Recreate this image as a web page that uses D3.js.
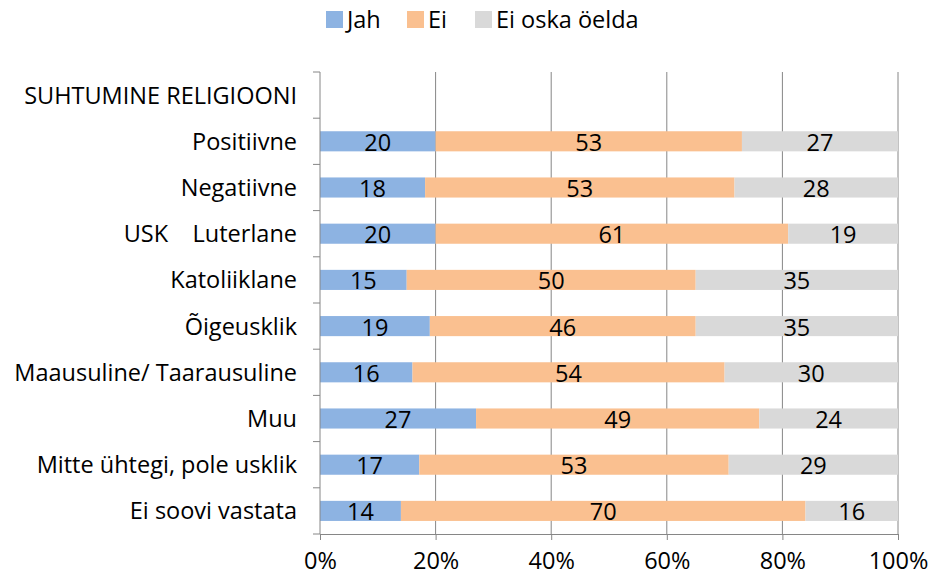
<!DOCTYPE html>
<html>
<head>
<meta charset="utf-8">
<script src="https://cdn.jsdelivr.net/npm/d3@7"></script>
<style>
  body { margin: 0; background: #fff; }
  text { font-family: "Open Sans", "Noto Sans", sans-serif; fill: #000; }
</style>
</head>
<body>
<div id="chart"></div>
<script>
// categories and values (percent)
var categories = ['SUHTUMINE RELIGIOONI', 'Positiivne', 'Negatiivne', 'USK    Luterlane', 'Katoliiklane',
    'Õigeusklik', 'Maausuline/ Taarausuline', 'Muu', 'Mitte ühtegi, pole usklik', 'Ei soovi vastata'];
var jah = [null, 20, 18, 20, 15, 19, 16, 27, 17, 14];
var ei = [null, 53, 53, 61, 50, 46, 54, 49, 53, 70];
var eiOska = [null, 27, 28, 19, 35, 35, 30, 24, 29, 16];
var seriesNames = ['Jah', 'Ei', 'Ei oska öelda'];
var xTicks = [0, 0.2, 0.4, 0.6, 0.8, 1];

var colors = ['#8DB3E2', '#FAC090', '#D9D9D9'];

var svgWidth = 931;
var svgHeight = 582;
var margin = {top: 72, right: 33, bottom: 48, left: 320};
var chartWidth = svgWidth - margin.left - margin.right;
var chartHeight = svgHeight - margin.top - margin.bottom;

var svg = d3.select('#chart').append('svg')
    .attr('width', svgWidth)
    .attr('height', svgHeight);

var chartGroup = svg.append('g')
    .attr('transform', `translate(${margin.left}, ${margin.top})`);

var table = categories.map(function(c, i) {
    return {cat: c, Jah: jah[i], Ei: ei[i], 'Ei oska öelda': eiOska[i]};
});

var xScale = d3.scaleLinear().domain([0, 1]).range([0, chartWidth]);
var yScale = d3.scaleBand().domain(categories).range([0, chartHeight]).paddingInner(0.565).paddingOuter(0.2825);

// gridlines
chartGroup.append('g').selectAll('line')
    .data(xTicks.slice(1))
    .enter().append('line')
    .attr('x1', d => xScale(d)).attr('x2', d => xScale(d))
    .attr('y1', 0).attr('y2', chartHeight)
    .attr('stroke', '#868686').attr('stroke-width', 1);

// 100% stacked bars
var stack = d3.stack().keys(seriesNames).value((d, k) => d[k] || 0).offset(d3.stackOffsetExpand);
var layers = stack(table.filter(d => d.Jah !== null));

var layerGroups = chartGroup.selectAll('.layer')
    .data(layers)
    .enter().append('g')
    .attr('fill', (d, i) => colors[i]);

layerGroups.selectAll('rect')
    .data(d => d.map(p => Object.assign(p, {key: d.key})))
    .enter().append('rect')
    .attr('x', d => xScale(d[0]))
    .attr('y', d => yScale(d.data.cat))
    .attr('width', d => xScale(d[1]) - xScale(d[0]))
    .attr('height', yScale.bandwidth());

layerGroups.selectAll('text')
    .data(d => d)
    .enter().append('text')
    .attr('x', d => (xScale(d[0]) + xScale(d[1])) / 2)
    .attr('y', d => yScale(d.data.cat) + yScale.bandwidth() / 2 + 1)
    .attr('dy', '0.36em')
    .attr('text-anchor', 'middle')
    .style('font-size', '23.5px')
    .text(d => d.data[d.key]);

// y axis with ticks between categories
chartGroup.append('line')
    .attr('x1', 0).attr('x2', 0).attr('y1', 0).attr('y2', chartHeight)
    .attr('stroke', '#868686');
chartGroup.append('g').selectAll('line')
    .data(d3.range(categories.length + 1))
    .enter().append('line')
    .attr('x1', -7).attr('x2', 0)
    .attr('y1', d => d * chartHeight / categories.length)
    .attr('y2', d => d * chartHeight / categories.length)
    .attr('stroke', '#868686');

chartGroup.append('g').selectAll('text')
    .data(categories)
    .enter().append('text')
    .attr('x', -23)
    .attr('y', d => yScale(d) + yScale.bandwidth() / 2)
    .attr('dy', '0.36em')
    .attr('text-anchor', 'end')
    .style('font-size', '23.5px')
    .style('white-space', 'pre')
    .text(d => d);

// x axis
var bottomAxis = d3.axisBottom(xScale).tickValues(xTicks).tickFormat(d3.format('.0%')).tickSize(6).tickPadding(12);
var xAxisG = chartGroup.append('g')
    .attr('transform', `translate(0, ${chartHeight})`)
    .call(bottomAxis);
xAxisG.select('.domain').attr('stroke', '#868686');
xAxisG.selectAll('.tick line').attr('stroke', '#868686');
xAxisG.selectAll('.tick text').style('font-size', '23.5px').style('font-family', '"Open Sans", sans-serif');

// legend
var legendX = [326, 407, 475];
var legend = svg.append('g').selectAll('g')
    .data(seriesNames)
    .enter().append('g')
    .attr('transform', (d, i) => `translate(${legendX[i]}, 11)`);
legend.append('rect')
    .attr('width', 17).attr('height', 17)
    .attr('fill', (d, i) => colors[i]);
legend.append('text')
    .attr('x', 21).attr('y', 8.5)
    .attr('dy', '0.36em')
    .style('font-size', '23.5px')
    .text(d => d);
</script>
</body>
</html>
